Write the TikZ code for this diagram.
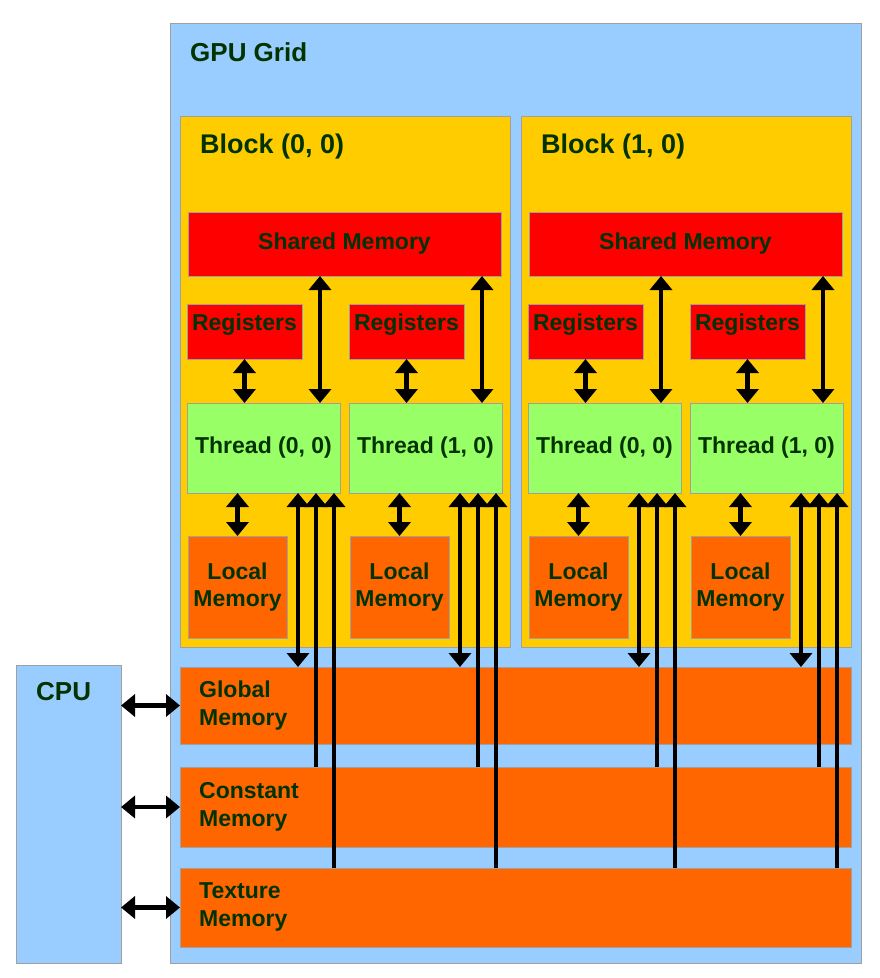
\documentclass[tikz,border=0pt]{standalone}
\usepackage{fontspec}
\setmainfont{Liberation Sans}
\usetikzlibrary{arrows.meta}
\definecolor{gridblue}{HTML}{99CCFF}
\definecolor{blockyellow}{HTML}{FFCC00}
\definecolor{memred}{HTML}{FF0000}
\definecolor{threadgreen}{HTML}{99FF66}
\definecolor{memorange}{HTML}{FF6600}
\definecolor{bordergray}{HTML}{A0A0A0}
\definecolor{txtgreen}{HTML}{003300}
\tikzset{
  box/.style={draw=bordergray, line width=1pt, inner sep=0pt, outer sep=0pt, anchor=north west},
  txt/.style={font=\bfseries\fontsize{23}{27}\selectfont, text=txtgreen, inner sep=0pt, align=center},
  bigtxt/.style={font=\bfseries\fontsize{27}{30}\selectfont, text=txtgreen, inner sep=0pt},
  memtxt/.style={font=\bfseries\fontsize{23}{28}\selectfont, text=txtgreen, inner sep=0pt, align=left, anchor=north west},
  tip/.tip={Triangle[width=22pt,length=14pt]},
  dbl/.style={line width=4.6pt, tip-tip},
  upar/.style={line width=4.6pt, -tip},
}
\begin{document}
\begin{tikzpicture}[x=1pt,y=-1pt]
\useasboundingbox (0,0) rectangle (880,978);
% GPU grid and CPU
\node[box, fill=gridblue, minimum width=691pt, minimum height=940pt] (grid) at (170,23) {};
\node[box, fill=gridblue, minimum width=105pt, minimum height=298pt] (cpu) at (16,665) {};
\node[bigtxt, font=\bfseries\fontsize{26}{30}\selectfont, anchor=base west] (gridT) at (190,61) {GPU Grid};
\node[bigtxt, font=\bfseries\fontsize{26}{30}\selectfont, anchor=base west] (cpuT) at (36,700) {CPU};
% memories
\node[box, fill=memorange, minimum width=671pt, minimum height=77pt] (glob) at (180,667) {};
\node[box, fill=memorange, minimum width=671pt, minimum height=80pt] (cons) at (180,767) {};
\node[box, fill=memorange, minimum width=671pt, minimum height=79pt] (tex) at (180,868) {};
\node[memtxt] (globT) at (199,681) {Global\\Memory};
\node[memtxt] (consT) at (199,782) {Constant\\Memory};
\node[memtxt] (texT) at (199,882) {Texture\\Memory};
% blocks
\foreach \b/\bx in {0/180, 1/521}{
  \node[box, fill=blockyellow, minimum width=330pt, minimum height=531pt] (blk\b) at (\bx,116) {};
  \node[bigtxt, anchor=base west] (blkT\b) at (\bx+20,153) {Block (\b, 0)};
  \node[box, fill=memred, minimum width=313pt, minimum height=64pt] (sh\b) at (\bx+8,212) {};
  \node[txt] (shT\b) at (sh\b.center) {Shared Memory};
  \foreach \t/\tx in {0/7, 1/169}{
    \node[box, fill=memred, minimum width=115pt, minimum height=55pt] (reg\b\t) at (\bx+\tx,304) {};
    \node[txt, anchor=base] (regT\b\t) at ([yshift=-26pt]reg\b\t.north) {Registers};
    \node[box, fill=threadgreen, minimum width=153pt, minimum height=90pt] (th\b\t) at (\bx+\tx,403) {};
    \node[txt] (thT\b\t) at (th\b\t.center) {Thread (\t, 0)};
    \node[box, fill=memorange, minimum width=99pt, minimum height=102pt] (loc\b\t) at (\bx+\tx+1,536) {};
    \node[txt] (locT\b\t) at (loc\b\t.center) {Local\\Memory};
  }
}
% arrows CPU
\draw[dbl] (cpu.east |- glob.west) -- (glob.west);
\draw[dbl] (cpu.east |- cons.west) -- (cons.west);
\draw[dbl] (cpu.east |- tex.west) -- (tex.west);
% arrows in blocks
\foreach \b in {0,1}{
  \foreach \t in {0,1}{
    \coordinate (sa\b\t) at ([xshift=-20pt]th\b\t.north east);
    \coordinate (ga\b\t) at ([xshift=-42pt]th\b\t.south east);
    \coordinate (ca\b\t) at ([xshift=-24pt]th\b\t.south east);
    \coordinate (ta\b\t) at ([xshift=-6pt]th\b\t.south east);
    \draw[dbl] (reg\b\t.south) -- (reg\b\t.south |- th\b\t.north);
    \draw[dbl] (sa\b\t) -- (sa\b\t |- sh\b.south);
    \draw[dbl] (loc\b\t.north) -- (loc\b\t.north |- th\b\t.south);
    \draw[dbl] (ga\b\t) -- (ga\b\t |- glob.north);
    \draw[upar] (ca\b\t |- cons.north) -- (ca\b\t);
    \draw[upar] (ta\b\t |- tex.north) -- (ta\b\t);
  }
}
\end{tikzpicture}
\end{document}
